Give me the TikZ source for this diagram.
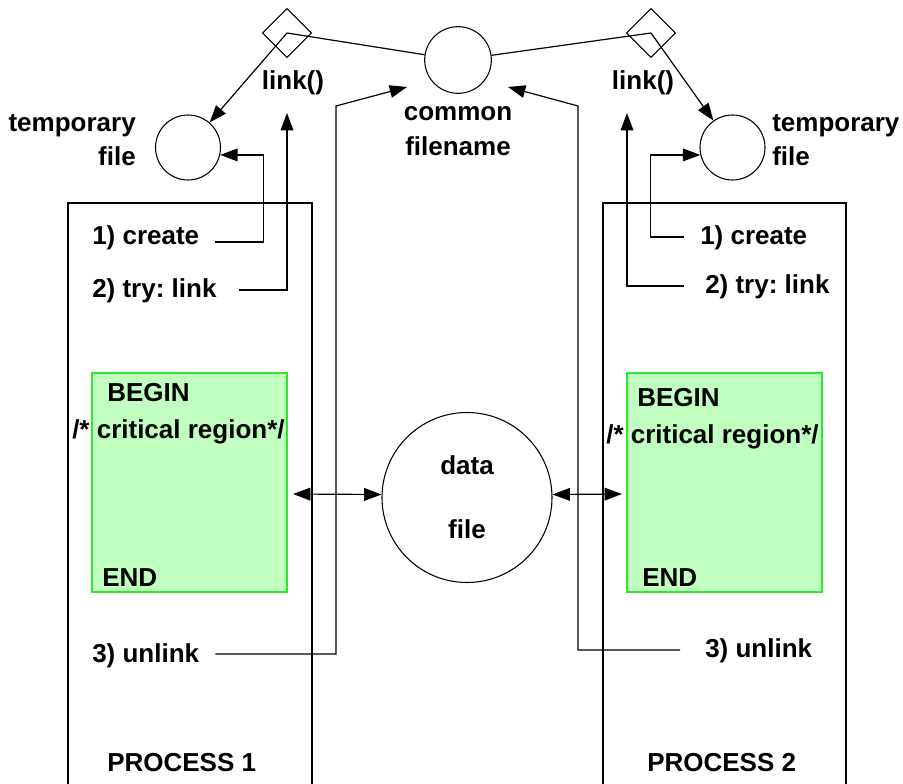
\documentclass[tikz,border=0pt]{standalone}
\usepackage{fontspec}
\setmainfont{Liberation Sans}
\usetikzlibrary{shapes.geometric,arrows.meta,calc}

\definecolor{regionfill}{RGB}{192,255,192}
\definecolor{regionline}{RGB}{48,232,48}

\tikzset{
  lbl/.style={inner sep=0pt, font=\fontsize{19.5}{26}\selectfont\bfseries\frenchspacing},
  filecirc/.style={draw, circle, line width=0.8pt, inner sep=0pt},
  linkdiamond/.style={draw, diamond, aspect=1, line width=0.8pt, inner sep=0pt,
                      minimum width=36.75pt, minimum height=36.75pt},
  procbox/.style={draw, rectangle, line width=0.9pt, minimum width=183pt,
                  minimum height=447.75pt},
  regionbox/.style={draw=regionline, fill=regionfill, line width=1.1pt,
                    minimum width=146.25pt, minimum height=164.25pt},
  conn/.style={line width=0.9pt},
  arr/.style={conn, -{Triangle[length=13pt,width=9.5pt]}},
  darr/.style={conn, {Triangle[length=13pt,width=9.5pt]}-{Triangle[length=13pt,width=9.5pt]}}
}

\begin{document}
\begin{tikzpicture}[x=0.75pt,y=-0.75pt]
\useasboundingbox (0,0) rectangle (903,784);
\clip (0,0) rectangle (903,784);

% process columns (they run past the lower edge)
\node[procbox] (p1) at (190,501.5) {};
\node[procbox, minimum width=182.25pt] (p2) at (724.5,501.5) {};

% critical regions
\node[regionbox] (g1) at (189.5,482.5) {};
\node[regionbox] (g2) at (724.5,482.5) {};

% files
\node[filecirc, minimum size=48.75pt] (tmpL) at (188,147.5) {};
\node[filecirc, minimum size=48.75pt] (tmpR) at (732.5,147.5) {};
\node[filecirc, minimum size=50pt] (common) at (458,60) {};
\node[filecirc, minimum size=127.5pt, align=center,
      font=\fontsize{19.5}{26}\selectfont\bfseries] (data) at (467,497.5) {data\\[22pt]file};

% link() operations
\node[linkdiamond] (dL) at (287,33) {};
\node[linkdiamond] (dR) at (651,33) {};

% labels
\node[lbl, align=right, anchor=east] (tmpLlbl) at (136,140) {temporary\\file};
\node[lbl, align=left, anchor=west] (tmpRlbl) at (772,140) {temporary\\file};
\node[lbl] (lk1) at (293,83) {link()};
\node[lbl] (lk2) at (643,83) {link()};
\node[lbl, align=center] (cmnlbl) at (458,131) {common\\filename};

\node[lbl, anchor=west] (cr1) at (92,238) {1) create};
\node[lbl, anchor=west] (tl1) at (92,291) {2) try: link};
\node[lbl, anchor=west] (ul1) at (92,656) {3) unlink};
\node[lbl, anchor=west] (cr2) at (700,238) {1) create};
\node[lbl, anchor=west] (tl2) at (705,287) {2) try: link};
\node[lbl, anchor=west] (ul2) at (705,651) {3) unlink};

\node[lbl, anchor=west] (b1) at (107,393) {BEGIN};
\node[lbl, anchor=west] (c1) at (72,432) {/* critical region*/};
\node[lbl, anchor=west] (e1) at (102,578) {END};
\node[lbl, anchor=west] (b2) at (637,398) {BEGIN};
\node[lbl, anchor=west] (c2) at (606,437) {/* critical region*/};
\node[lbl, anchor=west] (e2) at (642,578) {END};

\node[lbl, anchor=west] (pn1) at (107,763) {PROCESS 1};
\node[lbl, anchor=west] (pn2) at (647,763) {PROCESS 2};

% link() ties the temporary file to the common name
\draw[conn] (dL.center) -- (common);
\draw[conn] (dR.center) -- (common);
\draw[arr] (dL.center) -- (tmpL);
\draw[arr] (dR.center) -- (tmpR);

% process 1 steps
\coordinate (linkTipL) at (287,113);
\coordinate (unlinkTipL) at ($(common)+(-51,27)$);
\draw[arr] ($(cr1.east)+(16,4)$) -| ($(tmpL.-13)+(43.3,0)$) -- (tmpL.-13);
\draw[arr] ($(tl1.east)+(22,-1)$) -| (linkTipL);
\draw[arr] ($(ul1.east)+(16,-2)$) -| (336,106) -- (unlinkTipL);

% process 2 steps
\coordinate (linkTipR) at (627,113);
\coordinate (unlinkTipR) at ($(common)+(50,27)$);
\draw[arr] ($(cr2.west)+(-16,-1)$) -| ($(tmpR.193)+(-49.8,0)$) -- (tmpR.193);
\draw[arr] ($(tl2.west)+(-21,-1)$) -| (linkTipR);
\draw[arr] ($(ul2.west)+(-25,-1)$) -| (578,106) -- (unlinkTipR);

% access to the shared data file
\coordinate (accL) at (293,494);
\coordinate (accR) at (622,494);
\draw[darr] (accL) -- (data.178);
\draw[darr] (data.2) -- (accR);
\end{tikzpicture}
\end{document}
